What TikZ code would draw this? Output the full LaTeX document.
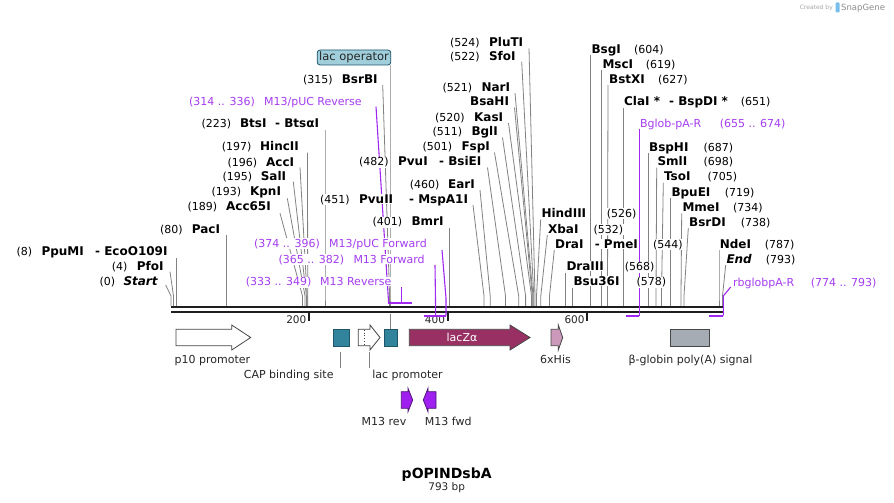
\documentclass[tikz,border=0pt]{standalone}
\usepackage{fontspec}
\setmainfont{DejaVu Sans}[BoldFont={DejaVu Sans Bold},ItalicFont={DejaVu Sans Oblique},BoldItalicFont={DejaVu Sans Bold Oblique}]
\definecolor{lgray}{RGB}{130,130,130}
\definecolor{purp}{RGB}{160,40,240}
\definecolor{purptext}{RGB}{165,60,240}
\definecolor{bbcol}{RGB}{30,30,30}
\definecolor{tealf}{RGB}{49,132,155}
\definecolor{teald}{RGB}{30,85,105}
\definecolor{lacopf}{RGB}{160,206,219}
\definecolor{laczf}{RGB}{153,48,100}
\definecolor{hisf}{RGB}{204,153,187}
\definecolor{bglobf}{RGB}{166,172,179}
\definecolor{featd}{RGB}{70,70,70}
\definecolor{primf}{RGB}{160,32,240}
\definecolor{primd}{RGB}{80,20,120}
\begin{document}
\begin{tikzpicture}[x=1pt,y=-1pt]
\tikzset{
  ln/.style={draw=lgray, line width=0.8pt},
  pl/.style={draw=purp, line width=1.1pt},
  pbar/.style={draw=purp, line width=2pt},
  bb/.style={draw=bbcol, line width=2.7pt},
  lbl/.style={inner sep=0.6pt, fill=white, anchor=base west},
  numt/.style={lbl, font=\fontsize{11}{13}\selectfont, text=black},
  enz/.style={lbl, font=\fontsize{12}{14}\selectfont\bfseries, text=black},
  prm/.style={lbl, font=\fontsize{11}{13}\selectfont, text=purptext},
  feat/.style={draw=featd, line width=0.8pt},
  flab/.style={anchor=base, inner sep=0pt, font=\fontsize{11}{13}\selectfont, text=black!85},
  ticklab/.style={anchor=base east, inner sep=0pt, font=\fontsize{10.5}{12}\selectfont, text=black!85}
}
\useasboundingbox (0,0) rectangle (894,503);
\fill[white] (0,0) rectangle (894,503);

% ---------- gray site lines ----------
\foreach \sx/\sy/\px [count=\i] in {
165.7/285/171, 170/271.7/173.5, 176.3/258/176.3, 226.7/235/226.7,
280/213.3/302.5, 287.3/198.3/305, 293.3/181.7/306.4, 300/167.3/307.1, 307.5/152.7/307.7,
325/130/325, 382.7/85/389.6, 390/65.5/390,
487.5/167.5/505.5, 473/205/484, 480/190/490.2, 449.3/228/449.3,
529/48.3/535, 521.7/61.7/533.8, 515/93/533, 514.5/107.5/532.3, 508.5/123/531.5, 502.5/137.5/525.6, 494.5/152.5/518.7,
540.7/219.3/536.5, 547.3/235/540.8, 554.3/250/549.5, 565.7/272.7/565.7, 572.7/287.7/572.7,
590.7/55/590.7, 601.7/70/601.7, 608/85/607.5, 623.3/107.7/623.3,
648.3/153.3/648.3, 656.7/167.7/656, 663.3/182.7/661.5, 670.7/198/670.7, 681.7/213.3/681, 688.3/228/684, 719/250/719, 725.7/265/722.5}
{
  \coordinate (ls\i) at (\sx,\sy);
  \coordinate (lk\i) at (\px,296);
  \coordinate (lb\i) at (\px,306);
  \draw[ln] (ls\i) -- (lk\i) -- (lb\i);
}

% ---------- backbone ----------
\coordinate (bbL1) at (171,307); \coordinate (bbR1) at (723.3,307);
\coordinate (bbL2) at (171,312); \coordinate (bbR2) at (723.3,312);
\draw[bb] (bbL1) -- (bbR1);
\draw[bb] (bbL2) -- (bbR2);

% ticks
\foreach \tx/\tl [count=\i] in {309/200, 447.7/400, 587.3/600}{
  \coordinate (tk\i) at (\tx,313);
  \coordinate (tb\i) at (\tx,320.5);
  \draw[draw=bbcol, line width=2pt] (tk\i) -- (tb\i);
  \node[ticklab] (tl\i) at (\tx-2.5,323) {\tl};
}

% ---------- purple primer lines and bars ----------
\coordinate (p1s) at (376,106.7); \coordinate (p1k) at (388.3,298); \coordinate (p1b) at (388.3,302.5); \coordinate (p1e) at (404.5,302.5);
\draw[pl] (p1s) -- (p1k) -- (p1b);
\draw[pbar] (p1b) -- (p1e);
\coordinate (p2s) at (401.7,287); \coordinate (p2b) at (401.7,302.5); \coordinate (p2e) at (411.7,302.5);
\draw[pl] (p2s) -- (p2b);
\draw[pbar] (p2b) -- (p2e);
\coordinate (p3s) at (442,250); \coordinate (p3k) at (446,298); \coordinate (p3b) at (446,315.7); \coordinate (p3e) at (430.6,315.7);
\draw[pl] (p3s) -- (p3k) -- (p3b);
\draw[pbar] (p3b) -- (p3e);
\coordinate (p4s) at (435,265); \coordinate (p4b) at (435.7,315.7); \coordinate (p4e) at (424.3,315.7);
\draw[pl] (p4s) -- (p4b);
\draw[pbar] (p4b) -- (p4e);
\coordinate (p5s) at (639.3,129); \coordinate (p5b) at (639.3,315.7); \coordinate (p5e) at (626,315.7);
\draw[pl] (p5s) -- (p5b);
\draw[pbar] (p5b) -- (p5e);
\coordinate (p6s) at (730.7,287); \coordinate (p6k) at (723.3,296); \coordinate (p6b) at (723.3,315.7); \coordinate (p6e) at (709.3,315.7);
\draw[pl] (p6s) -- (p6k) -- (p6b);
\draw[pbar] (p6b) -- (p6e);

% ---------- labels: numbers ----------
\foreach \x/\y/\t [count=\i] in {
98.7/281.7/(0), 111/266.7/(4), 15.7/251.7/(8), 159.3/229/(80), 186.7/206.7/(189), 210.7/191.7/(193), 221.7/176.7/(195), 226.7/162.3/(196), 221/146.7/(197), 200.7/123.3/(223), 302.3/79/(315), 358.3/161.7/(482), 319.3/199.3/(451), 409/184/(460), 371.7/221.7/(401), 449.3/42.3/(524), 449.3/56.7/(522), 441.7/87.3/(521), 434.3/117.3/(520), 431.7/131.7/(511), 421.7/146.7/(501),
606/213.3/(526), 592.7/229/(532), 652.3/244/(544), 624/266.7/(568), 635.7/281.7/(578), 633.3/49/(604), 645/64/(619), 657.3/79/(627), 740/101.7/(651), 702.7/147.3/(687), 702.7/161.7/(698), 706.7/176.7/(705), 724/192/(719), 732.3/207.3/(734), 740/222.3/(738), 764/244/(787), 765/259/(793)}
{ \node[numt] (tn\i) at (\x,\y+4) {\t}; }

% ---------- labels: enzyme names ----------
\foreach \x/\y/\t [count=\i] in {
122.7/281.7/\textit{Start}, 136/266.7/PfoI, 40.7/251.7/PpuMI, 94.3/251.7/- EcoO109I, 191/229/PacI, 225.3/206.7/Acc65I, 249.3/191.7/KpnI, 260/176.7/SalI, 265.3/162.3/AccI, 259.3/146.7/HincII, 239.3/123.3/BtsI, 274.3/123.3/- BtsαI, 341/79/BsrBI, 397.3/161.7/PvuI, 438.3/161.7/- BsiEI, 358.3/199.3/PvuII, 408.3/199.3/- MspA1I, 447.3/184/EarI, 410.7/221.7/BmrI, 488.3/42.3/PluTI, 488.3/56.7/SfoI, 480.7/87.3/NarI, 469.3/101.7/BsaHI, 473.3/117.3/KasI, 470.7/131.7/BglI, 460.7/146.7/FspI,
540.7/213.3/HindIII, 547.3/229/XbaI, 554.3/244/DraI, 594/244/- PmeI, 565.7/266.7/DraIII, 572.7/281.7/Bsu36I, 590.7/49/BsgI, 601.7/64/MscI, 608.3/79/BstXI, 623.3/101.7/ClaI *, 668.3/101.7/- BspDI *, 648.3/147.3/BspHI, 656.7/161.7/SmlI, 663.3/176.7/TsoI, 670.7/192/BpuEI, 681.7/207.3/MmeI, 688.3/222.3/BsrDI, 719/244/NdeI, 725.7/259/\textit{End}}
{ \node[enz] (te\i) at (\x,\y+4) {\t}; }

% ---------- labels: primers ----------
\foreach \x/\y/\t [count=\i] in {
188.3/101.7/{(314 .. 336)}, 263.3/101.7/{M13/pUC Reverse}, 253.3/243.3/{(374 .. 396)}, 328.3/243.3/{M13/pUC Forward}, 277.7/259/{(365 .. 382)}, 352.7/259/{M13 Forward}, 245/281.7/{(333 .. 349)}, 319.3/281.7/{M13 Reverse}, 639.3/123.3/{Bglob-pA-R}, 719/123.3/{(655 .. 674)}, 732.3/282.3/{rbglobpA-R}, 810/282.3/{(774 .. 793)}}
{ \node[prm] (tp\i) at (\x,\y+4) {\t}; }

% lac operator label box
\node[draw=teald, fill=lacopf, rounded corners=3pt, line width=0.8pt, inner xsep=2pt, inner ysep=0pt, minimum height=15pt, font=\fontsize{11.5}{13}\selectfont, text=black!85] (lacoplab) at (354,57.5) {lac operator};

% ---------- feature row ----------
% p10 promoter
\draw[feat, fill=white] (176,329.3) -- (231.7,329.3) -- (231.7,325) -- (250.7,337.5) -- (231.7,350) -- (231.7,345.7) -- (176,345.7) -- cycle;
\node[flab] (p10lab) at (212.5,363) {p10 promoter};
% CAP binding site
\node[draw=teald, fill=tealf, line width=0.8pt, inner sep=0pt, minimum width=15.4pt, minimum height=16.4pt, anchor=north west] (cap) at (333.3,329.3) {};
\coordinate (capa) at (340.3,352); \coordinate (capb) at (340.3,367.7);
\draw[ln] (capa) -- (capb);
\node[flab] (caplab) at (288.7,378) {CAP binding site};
% lac promoter
\draw[feat, fill=white] (358.3,329.3) -- (370,329.3) -- (370,325) -- (380,337.5) -- (370,350) -- (370,345.7) -- (358.3,345.7) -- cycle;
\draw[draw=featd, line width=0.8pt, dotted] (364,329.8) -- (364,345.2);
\coordinate (lpa) at (369.3,352); \coordinate (lpb) at (369.3,367.7);
\draw[ln] (lpa) -- (lpb);
\node[flab] (lplab) at (407.5,378) {lac promoter};
% lac operator feature
\node[draw=teald, fill=tealf, line width=0.8pt, inner sep=0pt, minimum width=12.4pt, minimum height=16.4pt, anchor=north west] (lacop) at (384.3,329.3) {};
\coordinate (loa) at (390,313.5); \coordinate (lob) at (390,329.3);
\draw[ln] (loa) -- (lob);
% lacZ alpha
\draw[feat, fill=laczf] (409.3,329.3) -- (510,329.3) -- (510,325) -- (530,337.5) -- (510,350) -- (510,345.7) -- (409.3,345.7) -- cycle;
\node[anchor=base, inner sep=0pt, font=\fontsize{11}{13}\selectfont, text=white] (laczlab) at (462,341.5) {lacZα};
% 6xHis
\draw[feat, fill=hisf] (551,329.3) -- (558.3,329.3) -- (558.3,325) -- (562.7,337.5) -- (558.3,350) -- (558.3,345.7) -- (551,345.7) -- cycle;
\node[flab] (hislab) at (555.5,363) {6xHis};
% beta-globin polyA
\node[draw=featd, fill=bglobf, line width=0.8pt, inner sep=0pt, minimum width=39.3pt, minimum height=16.4pt, anchor=north west] (bglob) at (670,329.3) {};
\node[flab] (bgloblab) at (690.5,363) {β-globin poly(A) signal};

% ---------- primer arrows ----------
\draw[draw=primd, fill=primf, line width=0.8pt] (401.3,391.7) -- (408,391.7) -- (408,388.3) -- (412.7,400) -- (408,411.7) -- (408,408.3) -- (401.3,408.3) -- cycle;
\draw[draw=primd, fill=primf, line width=0.8pt] (436,391.7) -- (428,391.7) -- (428,388.3) -- (423.3,400) -- (428,411.7) -- (428,408.3) -- (436,408.3) -- cycle;
\node[flab] (m13rev) at (384,425.7) {M13 rev};
\node[flab] (m13fwd) at (448.3,425.7) {M13 fwd};

% ---------- title ----------
\node[anchor=base, inner sep=0pt, font=\fontsize{14}{16}\selectfont\bfseries] (title) at (446.7,478.5) {pOPINDsbA};
\node[anchor=base, inner sep=0pt, font=\fontsize{10.5}{12}\selectfont, text=black!85] (bp) at (446.7,490.5) {793 bp};

% ---------- SnapGene mark ----------
\node[anchor=base east, inner sep=0pt, font=\fontsize{6}{7}\selectfont, text=black!35] (cby) at (833,9.5) {Created by};
\fill[color={rgb,255:red,120;green,190;blue,235}, rounded corners=1pt] (835.5,2.5) rectangle (839.5,12.5);
\node[anchor=base west, inner sep=0pt, font=\fontsize{8.5}{10}\selectfont, text=black!45] (sg) at (841,10.5) {SnapGene};
\end{tikzpicture}
\end{document}
